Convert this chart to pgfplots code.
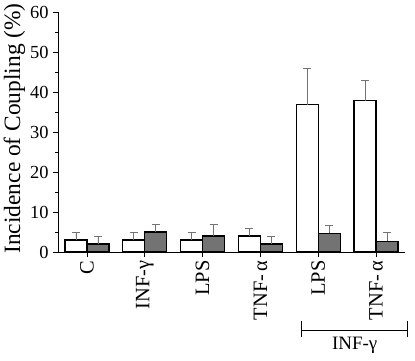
\documentclass[border=0pt]{standalone}
\usepackage{fontspec}
\setmainfont{Liberation Serif}
\usepackage{pgfplots}
\pgfplotsset{compat=1.18}
\begin{document}
\begin{tikzpicture}
\useasboundingbox (-58bp,-109bp) rectangle (357bp,252bp);
\begin{axis}[
  at={(0,0)}, anchor=south west,
  scale only axis,
  width=347bp, height=240bp,
  xmin=-0.5, xmax=5.5, ymin=0, ymax=60,
  axis x line=bottom, axis y line=left,
  axis line style={-, line width=0.8pt},
  ytick={0,10,20,30,40,50,60},
  minor y tick num=1,
  tick align=outside,
  major tick length=5bp, minor tick length=3bp,
  tick style={black, line width=0.6pt},
  xtick={0,1,2,3,4,5},
  xticklabels={C,INF-γ,LPS,TNF-\,α,LPS,TNF-\,α},
  x tick label style={rotate=90, anchor=east, font=\fontsize{20.5}{20.5}\selectfont},
  y tick label style={font=\fontsize{18.5}{18.5}\selectfont, xshift=-1bp},
  /pgf/number format/assume math mode=true,
  ylabel={Incidence of Coupling (\%)},
  ylabel style={font=\fontsize{23.5}{23.5}\selectfont, at={(ticklabel cs:0.515)}, yshift=-2bp},
  ybar=0pt, bar width=22bp,
  clip=false,
]
\addplot[draw=black, line width=1.2pt, fill=white,
  error bars/.cd, y dir=plus, y explicit,
  error bar style={black!55, line width=0.6pt},
  error mark options={rotate=90, mark size=4bp, black!55, line width=0.6pt}]
  coordinates {(0,3) +- (0,2) (1,3) +- (0,2) (2,3) +- (0,2) (3,4) +- (0,2) (4,36.8) +- (0,9.2) (5,37.8) +- (0,5.1)};
\addplot[draw=black, line width=1.2pt, fill=black!55,
  error bars/.cd, y dir=plus, y explicit,
  error bar style={black!55, line width=0.6pt},
  error mark options={rotate=90, mark size=4bp, black!55, line width=0.6pt}]
  coordinates {(0,2) +- (0,2) (1,5) +- (0,2) (2,4) +- (0,3) (3,2) +- (0,2) (4,4.7) +- (0,2) (5,2.7) +- (0,2.2)};
\draw[line width=0.8pt] (axis cs:3.71,-17.3) -- (axis cs:3.71,-21.3);
\draw[line width=0.8pt] (axis cs:5.55,-17.3) -- (axis cs:5.55,-21.3);
\draw[line width=0.8pt] (axis cs:3.71,-19.5) -- (axis cs:5.55,-19.5);
\node[font=\fontsize{19}{19}\selectfont, anchor=north] at (axis cs:4.63,-20.3) {INF-γ};
\end{axis}
\end{tikzpicture}
\end{document}
